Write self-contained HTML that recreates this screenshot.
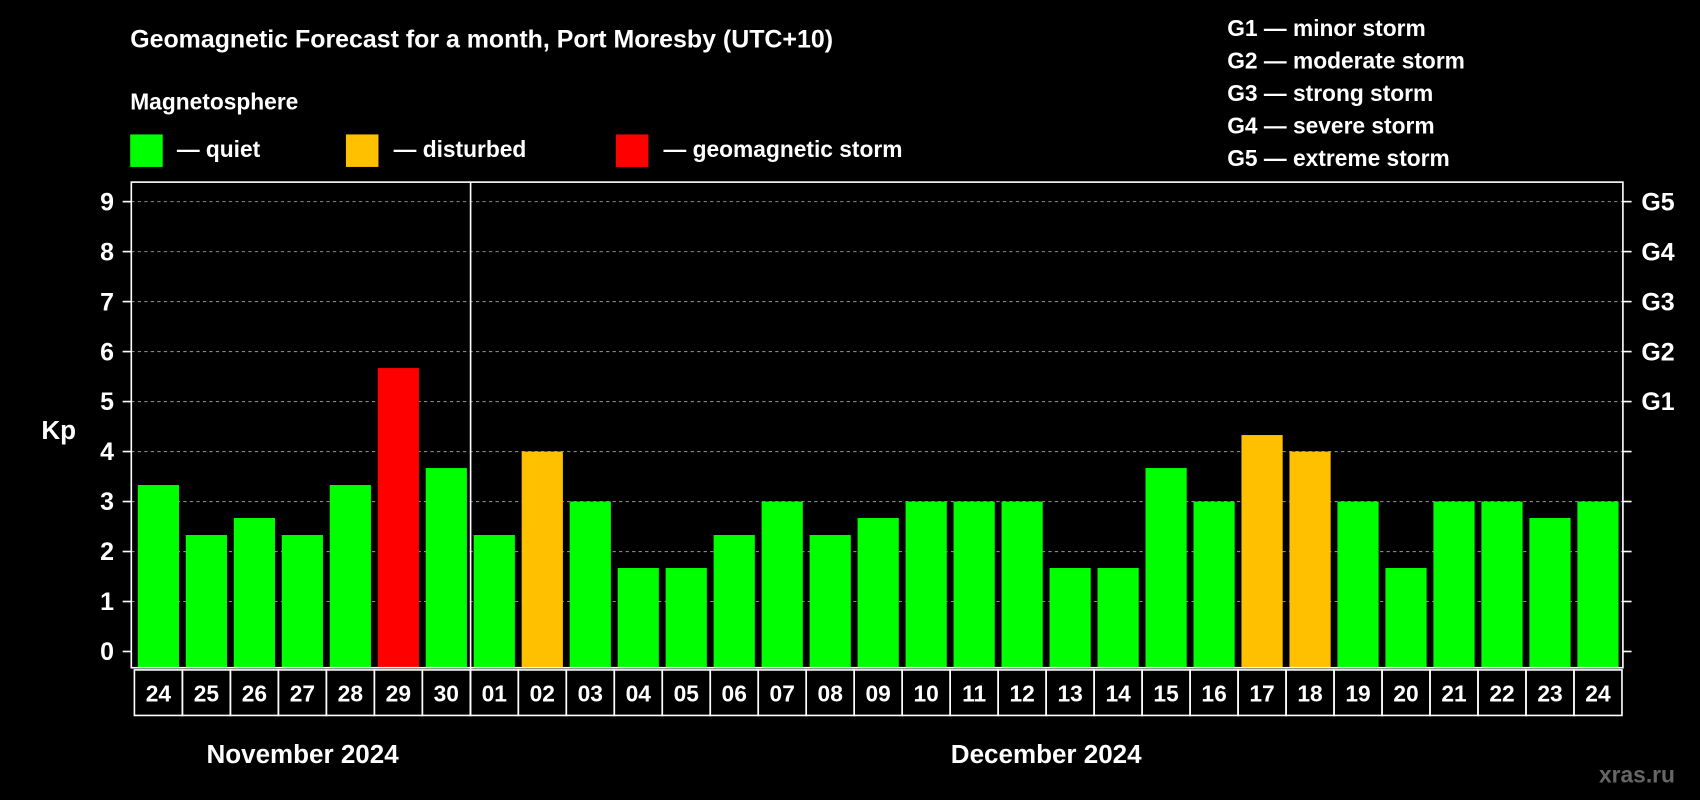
<!DOCTYPE html>
<html><head><meta charset="utf-8"><style>
html,body{margin:0;padding:0;background:#000;}
svg{display:block;font-family:"Liberation Sans",Arial,sans-serif;font-weight:bold;}
</style></head><body>
<svg id="chart" width="1700" height="800" viewBox="0 0 1568 738" xmlns="http://www.w3.org/2000/svg">
<rect width="1568" height="738" fill="#000"/>
<text x="120" y="44" fill="#fff" font-size="23">Geomagnetic Forecast for a month, Port Moresby (UTC+10)</text>
<text x="120" y="101" fill="#fff" font-size="21">Magnetosphere</text>
<g>
<rect x="120" y="124" width="30" height="30" fill="#00ff00"/>
<text x="163" y="145" fill="#fff" font-size="21">— quiet</text>
<rect x="319" y="124" width="30" height="30" fill="#ffc000"/>
<text x="363" y="145" fill="#fff" font-size="21">— disturbed</text>
<rect x="568" y="124" width="30" height="30" fill="#ff0000"/>
<text x="612" y="145" fill="#fff" font-size="21">— geomagnetic storm</text>
</g>
<g fill="#fff" font-size="21">
<text x="1132" y="33">G1 — minor storm</text>
<text x="1132" y="63">G2 — moderate storm</text>
<text x="1132" y="93">G3 — strong storm</text>
<text x="1132" y="123">G4 — severe storm</text>
<text x="1132" y="153">G5 — extreme storm</text>
</g>
<text x="38" y="405" fill="#fff" font-size="24">Kp</text>
<g id="grid"></g>
<g id="bars"></g>
<rect x="121" y="168" width="1376" height="448" fill="none" stroke="#fff" stroke-width="1.5"/>
<line x1="434" y1="168" x2="434" y2="660" stroke="#fff" stroke-width="1.5"/>
<g id="axes"></g>
<text x="279" y="704" fill="#fff" font-size="24" text-anchor="middle">November 2024</text>
<text x="965" y="704" fill="#fff" font-size="24" text-anchor="middle">December 2024</text>
<text x="1545" y="722" fill="#666" font-size="21" text-anchor="end">xras.ru</text>
</svg>
<script>
const days = ["24","25","26","27","28","29","30","01","02","03","04","05","06","07","08","09","10","11","12","13","14","15","16","17","18","19","20","21","22","23","24"];
const kpValues = [3.33,2.33,2.67,2.33,3.33,5.67,3.67,2.33,4,3,1.67,1.67,2.33,3,2.33,2.67,3,3,3,1.67,1.67,3.67,3,4.33,4,3,1.67,3,3,2.67,3];
const yTicks = [0,1,2,3,4,5,6,7,8,9];
const gLabels = ["","","","","","G1","G2","G3","G4","G5"];
const NS="http://www.w3.org/2000/svg";
const plotL=121, plotR=1497, plotB=616;
const y0=601, yUnit=(601-186)/9;
const yScale=v=>y0-v*yUnit;
const firstC=146, step=(1474-146)/30, barW=38;
const xScale=i=>firstC+i*step;
function mk(tag,attrs,parent){const e=document.createElementNS(NS,tag);for(const k in attrs)e.setAttribute(k,attrs[k]);parent.appendChild(e);return e;}
const grid=document.getElementById('grid'),bars=document.getElementById('bars'),axes=document.getElementById('axes');
yTicks.forEach((t,i)=>{
  const y=yScale(t);
  if(t>0){const gl=mk('line',{x1:plotL,x2:plotR,y1:y,y2:y,stroke:'#888','stroke-dasharray':'3,3','stroke-width':1},grid);
  
  }
  const lt=mk('line',{x1:plotL-8,x2:plotL,y1:y,y2:y,stroke:'#fff','stroke-width':1.5},axes);
  
  
  const rt=mk('line',{x1:plotR,x2:plotR+8,y1:y,y2:y,stroke:'#fff','stroke-width':1.5},axes);
  
  
  const tx=mk('text',{x:105,y:y+8,fill:'#fff','font-size':23,'text-anchor':'end'},axes);
  tx.textContent=t;
  
  
  if(gLabels[i]){const g=mk('text',{x:1514,y:y+8,fill:'#fff','font-size':23},axes);
  g.textContent=gLabels[i];
  
  }
});
kpValues.forEach((v,i)=>{
  const c=xScale(i), y=yScale(v);
  const col=v>=5?'#ff0000':(v>=4?'#ffc000':'#00ff00');
  const r=mk('rect',{x:c-barW/2,y:y,width:barW,height:plotB-y,fill:col},bars);
  
  
  const bx=mk('rect',{x:c-step/2,y:618,width:step,height:42,fill:'none',stroke:'#fff','stroke-width':1.5},axes);
  
  
  const t=mk('text',{x:c,y:647,fill:'#fff','font-size':21,'text-anchor':'middle'},axes);
  t.textContent=days[i];
  
  
});
</script>
</body></html>
